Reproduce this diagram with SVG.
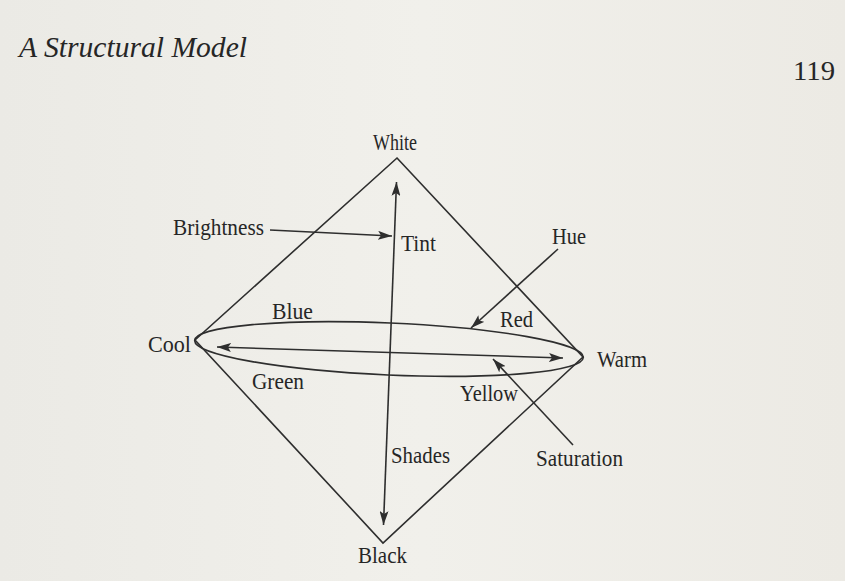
<svg xmlns="http://www.w3.org/2000/svg" width="845" height="581" viewBox="0 0 845 581">
<style>
text{font-family:"Liberation Serif","Times New Roman",serif;fill:#262626;font-size:22.5px}
.pg{font-size:28px}
.ln{stroke:#2e2e2e;stroke-width:1.6;fill:none}
</style>
<defs>
<marker id="ah" viewBox="0 0 14 9" refX="14" refY="4.5" markerWidth="14" markerHeight="9" markerUnits="userSpaceOnUse" orient="auto-start-reverse">
<path d="M0,0 L14,4.5 L0,9 L3,4.5 Z" fill="#2e2e2e"/>
</marker>
<linearGradient id="bg" x1="0" y1="0" x2="1" y2="0">
<stop offset="0" stop-color="#ebeae5"/>
<stop offset="0.5" stop-color="#f1f0eb"/>
<stop offset="1" stop-color="#eceae4"/>
</linearGradient>
</defs>
<rect width="845" height="581" fill="url(#bg)"/>
<g id="header">
<text x="19" y="57" style="font-family:'Liberation Serif','DejaVu Serif',serif;font-style:italic;font-size:30px" textLength="228" lengthAdjust="spacingAndGlyphs">A Structural Model</text>
<text class="pg" x="793" y="80" textLength="42" lengthAdjust="spacingAndGlyphs">119</text>
</g>
<g id="connectors">
<path class="ln" d="M397,158 L583,357 L383,543 L195,340 Z"/>
<ellipse class="ln" cx="389" cy="349" rx="194.5" ry="26" transform="rotate(2.5 389 349)"/>
<line class="ln" x1="383.5" y1="525" x2="396.5" y2="182" marker-start="url(#ah)" marker-end="url(#ah)"/>
<line class="ln" x1="217" y1="347" x2="563" y2="358" marker-start="url(#ah)" marker-end="url(#ah)"/>
<line class="ln" x1="270" y1="230" x2="392" y2="236" marker-end="url(#ah)"/>
<line class="ln" x1="558" y1="249" x2="471" y2="328" marker-end="url(#ah)"/>
<line class="ln" x1="573" y1="445" x2="493" y2="359" marker-end="url(#ah)"/>
</g>
<g id="white"><text x="373" y="150" textLength="44" lengthAdjust="spacingAndGlyphs">White</text></g>
<g id="black"><text x="358" y="563" textLength="49" lengthAdjust="spacingAndGlyphs">Black</text></g>
<g id="cool"><text x="148" y="352" textLength="43" lengthAdjust="spacingAndGlyphs">Cool</text></g>
<g id="warm"><text x="597" y="367" textLength="50" lengthAdjust="spacingAndGlyphs">Warm</text></g>
<g id="brightness"><text x="173" y="235" textLength="91" lengthAdjust="spacingAndGlyphs">Brightness</text></g>
<g id="tint"><text x="401" y="251" textLength="35" lengthAdjust="spacingAndGlyphs">Tint</text></g>
<g id="hue"><text x="552" y="244" textLength="34" lengthAdjust="spacingAndGlyphs">Hue</text></g>
<g id="blue"><text x="272" y="319" textLength="41" lengthAdjust="spacingAndGlyphs">Blue</text></g>
<g id="red"><text x="500" y="327" textLength="33" lengthAdjust="spacingAndGlyphs">Red</text></g>
<g id="green"><text x="252" y="389" textLength="52" lengthAdjust="spacingAndGlyphs">Green</text></g>
<g id="yellow"><text x="460" y="401" textLength="58" lengthAdjust="spacingAndGlyphs">Yellow</text></g>
<g id="shades"><text x="391" y="463" textLength="59" lengthAdjust="spacingAndGlyphs">Shades</text></g>
<g id="saturation"><text x="536" y="466" textLength="87" lengthAdjust="spacingAndGlyphs">Saturation</text></g>
</svg>
